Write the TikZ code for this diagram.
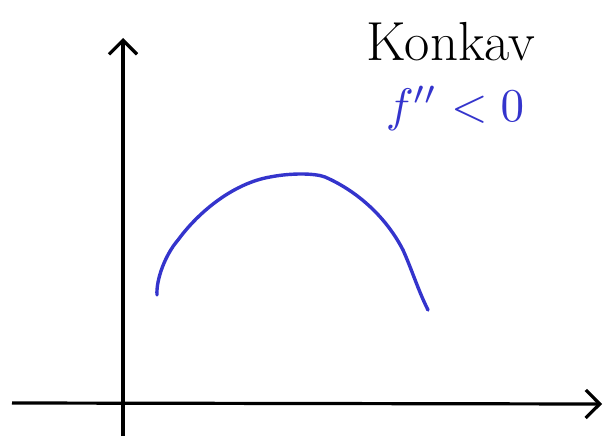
\documentclass[tikz,border=0pt]{standalone}
\usepackage{graphicx}
\usetikzlibrary{arrows.meta}
\definecolor{pen}{RGB}{52,52,204}
\begin{document}
\begin{tikzpicture}[x=1pt,y=-1pt,
  axis/.style={line width=3.2pt,-{Straight Barb[length=14pt,width=28pt,line width=3.2pt]}},
  curve/.style={pen,line width=3.4pt,line cap=round,line join=round},
  label/.style={inner sep=0pt,anchor=center}]
\useasboundingbox (0,0) rectangle (604,436);
\coordinate (ybot) at (123,436);
\coordinate (ytop) at (123,38);
\coordinate (xl) at (12,403);
\coordinate (xr) at (602,404);
\draw[axis] (ybot) -- (ytop);
\draw[axis] (xl) -- (xr);
\draw[curve] (157,295) .. controls (156,280) and (165,255) .. (178,240)
  .. controls (200,210) and (235,183) .. (270,177)
  .. controls (290,173) and (315,173) .. (325,177)
  .. controls (355,190) and (385,215) .. (403,250)
  .. controls (412,270) and (418,290) .. (428,310);
\node[label,font=\fontsize{55}{55}\selectfont] (konkav) at (451,42) {Konkav};
\node[label,pen] (cond) at (455,108) {\scalebox{4.7}{$f''<0$}};
\end{tikzpicture}
\end{document}
